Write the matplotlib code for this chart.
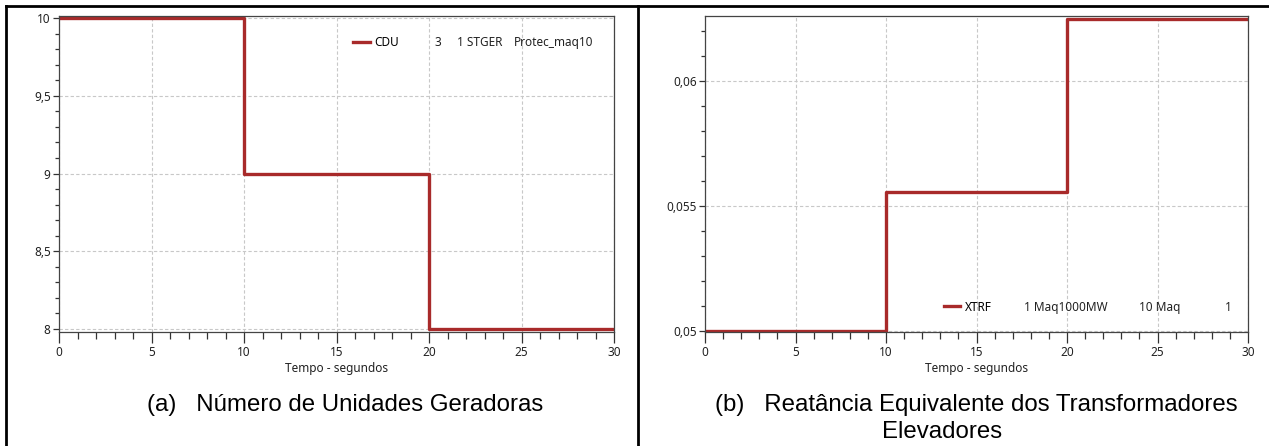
import numpy as np
import matplotlib.pyplot as plt
from matplotlib.ticker import FixedLocator, MultipleLocator

plt.rcParams.update({
    "font.family": ["Noto Sans", "DejaVu Sans"],
    "font.size": 8.5,
    "axes.linewidth": 0.9,
    "axes.edgecolor": "#444444",
})

RED = "#a82a2a"

# ------------------------------------------------------------
# data
# ------------------------------------------------------------
tempo = [0, 10, 20, 30]
cdu = [10, 9, 8, 8]
xtrf = [0.05, 0.055556, 0.0625, 0.0625]

x_ticks = [0, 5, 10, 15, 20, 25, 30]
cdu_ticks = [8, 8.5, 9, 9.5, 10]
cdu_tick_labels = ["8", "8,5", "9", "9,5", "10"]
xtrf_ticks = [0.05, 0.055, 0.06]
xtrf_tick_labels = ["0,05", "0,055", "0,06"]

# legend fields (name + extra columns, as the simulator prints them)
cdu_fields = ["CDU", "3", "1 STGER", "Protec_maq10"]
xtrf_fields = ["XTRF", "1 Maq1000MW", "10 Maq", "1"]

xlabel = "Tempo - segundos"
caption_a = "(a)   Número de Unidades Geradoras"
caption_b1 = "(b)   Reatância Equivalente dos Transformadores"
caption_b2 = "Elevadores"

fig = plt.figure(figsize=(12.69, 4.46), dpi=100)

ax1 = fig.add_axes([59/1269, 114/446, 555/1269, 316/446])
ax2 = fig.add_axes([705/1269, 114/446, 543/1269, 316/446])


def style(ax, yticks, ylabels, yminor):
    ax.set_xlim(0, 30)
    ax.xaxis.set_major_locator(FixedLocator(x_ticks))
    ax.xaxis.set_minor_locator(MultipleLocator(1))
    ax.yaxis.set_major_locator(FixedLocator(yticks))
    ax.set_yticklabels(ylabels)
    ax.yaxis.set_minor_locator(MultipleLocator(yminor))
    ax.tick_params(axis="x", which="major", length=8, width=0.9, colors="#333333", pad=2)
    ax.tick_params(axis="x", which="minor", length=5, width=0.9, colors="#333333")
    ax.tick_params(axis="y", which="major", length=4, width=0.9, colors="#333333", pad=2)
    ax.tick_params(axis="y", which="minor", length=3, width=0.9, colors="#333333")
    ax.tick_params(labelcolor="#222222", labelsize=8.5)
    ax.grid(True, which="major", linestyle=(0, (3, 2)), color="#c8c8c8", linewidth=0.8)
    ax.set_xlabel(xlabel, fontsize=8.5, color="#222222", labelpad=2)


def legend_row(ax, fields, x_starts, y_axes):
    # first field goes in the real legend, the rest follow as columns
    leg = ax.legend([fields[0]], loc="center left", bbox_to_anchor=(x_starts[0] / 30, y_axes),
                    frameon=False, borderpad=0, borderaxespad=0,
                    handlelength=1.4, handletextpad=0.4, fontsize=8.5)
    tr = ax.get_xaxis_transform()
    for s, x in zip(fields[1:], x_starts[1:]):
        ax.text(x, y_axes, s, transform=tr, ha="left", va="center",
                fontsize=8.5, color="#222222")
    return leg


# ------------------------------------------------------------
# (a)
# ------------------------------------------------------------
ax1.step(tempo, cdu, where="post", color=RED, linewidth=2.4)
ax1.set_ylim(7.981, 10.013)
style(ax1, cdu_ticks, cdu_tick_labels, 0.1)
legend_row(ax1, cdu_fields, [15.9, 20.3, 21.5, 24.6], 0.915)

# ------------------------------------------------------------
# (b)
# ------------------------------------------------------------
ax2.step(tempo, xtrf, where="post", color=RED, linewidth=2.4)
ax2.set_ylim(0.04996, 0.0626)
style(ax2, xtrf_ticks, xtrf_tick_labels, 0.001)
legend_row(ax2, xtrf_fields, [13.2, 17.6, 24.0, 28.7], 0.079)

# ------------------------------------------------------------
# captions and frame
# ------------------------------------------------------------
cap = dict(fontsize=17.3, family=["Liberation Sans", "DejaVu Sans"], color="black")
fig.text(147/1269, 1 - 405/446, caption_a, ha="left", va="center", **cap)
fig.text(715/1269, 1 - 405/446, caption_b1, ha="left", va="center", **cap)
fig.text(942/1269, 1 - 432/446, caption_b2, ha="center", va="center", **cap)

fig.add_artist(plt.Line2D([6/1269, 6/1269], [0, 1 - 6/446], transform=fig.transFigure,
                          color="black", linewidth=2))
fig.add_artist(plt.Line2D([6/1269, 1], [1 - 6/446, 1 - 6/446], transform=fig.transFigure,
                          color="black", linewidth=2))
fig.add_artist(plt.Line2D([638/1269, 638/1269], [0, 1 - 6/446], transform=fig.transFigure,
                          color="black", linewidth=2))

fig.savefig("out.png", dpi=100)
